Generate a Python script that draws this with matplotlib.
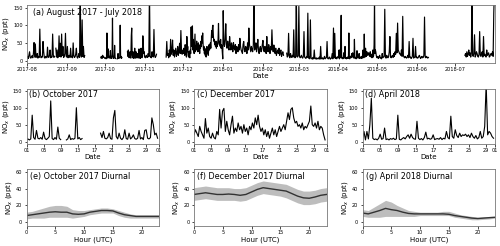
import numpy as np
import pandas as pd
import matplotlib
matplotlib.use('Agg')
import matplotlib.pyplot as plt
import matplotlib.dates as mdates

nan = np.nan

# NOx (ppt), 12-hourly values
aug17 = [8, 12, 6, 15, 25, 9, 7, 11, 14, 8, 20, 51, 10, 47, 9, 13, 20, 7, 12, 9,
         89, 15, 8, 11, 10, 54, 25, 9, 7, 12, 10, 8, 38, 11, 9, 14, 30, 8, 12, 10,
         75, 16, 9, 12, nan, 35, 10, 30, 8, 14, 70, 12, 49, 10, 75, 15, 40, 9, 11, 20,
         77, 13]
sep17 = [10, 40, 8, 12, 15, 9, 35, 10, 12, 8, 50, 14, 9, 11, 18, 35, 10, 7, 12, 20,
         9, 200, 15, 10, 115, 12, 40, 9, 14, nan] + [nan] * 22 + [nan, 8, 12, 6, 15, 9, 10, 7]
nov17 = [12, 8, 15, 10, 9, 20, 11, 200, 14, 9, 8, 25, 12, 10, 88, 15, 9, 12, 18, nan] \
        + [nan] * 12 + [nan, 10, 54, 15, 20, 8, 30, 12, 60, 18, 25, 58, 15, 30, 10, 22,
                        35, 12, 20, 40, 15, 28, 49, 20, 85, 25, 18, 30]
jan18 = [141, 50, 40, 60, 104, 45, 35, 55, 40, 30, 68, 45, 30, 50, 40, 25, 51, 35, 30, 45,
         20, 40, 35, 25, 45, 30, 63, 40, 30, 25, 20, 45, 54, 30, 25, 40, 35, 20, 50, 30,
         92, 45, 35, 25, 40, 30, 25, 45, 200, 30, 35, 50, 25, 40, 60, 30, 20, 35, 40, 25,
         30, 45]
feb18 = [57, 30, 25, 40, 35, 20, 68, 30, 25, 45, 35, 20, 40, 30, 87, 35, 25, 44, 30, 20,
         35, 15, 25, 30, 20, 35, 15, 25, 30, 12, 20, 25, 15, nan, nan, nan, nan, 21, 10, 15,
         77, 12, 8, 20, 12, 9, 15, 10, 87, 12, 8, 10, 200, 12, 10, 14]
mar18 = [153, 12, 8, 10, 15, 9, 7, 12, 82, 10, 8, 6, 12, 9, 134, 7, 10, 5, 115, 8,
         6, 4, 9, 5, 30, 6, 5, 8, 4, 6, 7, 5, 10, 4, 40, 6, 5, 8, 4, 6,
         12, 5, 7, 9, 54, 6, 5, 8, 10, 4, 6, 7, 20, 5, 92, 8, 77, 6, 10, 5,
         8, 12]
may18 = [8, 12, 6, 10, 15, 7, 9, 5, 20, 8, 10, 12, 145, 9, 7, 15, 10, 8, 12, 25,
         68, 10, 8, 12, 15, 9, 20, 12, 25, 18, 77, 22, 106, 30, 25, 20, 18, 15, 30, 12,
         125, 15, 10, 8, 12, 9, 7, 10, 15, 8, 54, 9, 10, 6, 8, 12, 63, 7, 9, 10,
         40, 8]
jun18 = [10, 7, 8, 12, 15, 9, 6, 10, 12, 8, 9, 15, 123, 10, 8, 12, 10, 7, 9, nan] + [nan] * 40
jul18 = [nan] * 14 + [nan, 15, 20, 10, 25, 12, 18, 30, 15, 22, 10, 20, 200, 15, 12, 20,
                      73, 10, 15, 25, 20, 12, 10, 18, 82, 15, 12, 20, 25, 10, 68, 15,
                      18, 12, 10, 30, 15, 20, 22, 10, 12, 18, 20, 15, 25, 12, 134, 200]

# 8-hourly values for the monthly panels
oct17 = [6, 8, 5, 8, 78, 12, 7, 33, 10, 8, 12, 7, 28, 9, 6, 10, 15, 120, 9, 6,
         12, 7, 43, 10, 6, nan, nan, nan, 5, 8, 20, 6, 9, 7, 10, 100, 8, 12, 6, 9,
         nan, nan] + [nan] * 9 + [nan, 25, 12, 30, 10, 8, 12, 25, 9, 7, 70, 92, 15, 8, 25,
                                 10, 6, 12, 35, 9, 7, 25, 8, 12, 20, 9, 7, 10, 33, 8, 12,
                                 6, 33, 35, 10, 8, 12, 70, 50, 20, 25, 10]
dec17 = [20, 35, 25, 15, 45, 30, 20, 10, 68, 25, 40, 15, 10, 25, 12, 8, 30, 20, 95, 40,
         90, 98, 30, 60, 35, 20, 50, 75, 25, 40, 30, 55, 35, 45, 25, 50, 30, 40, 20, 45,
         35, 55, 40, 70, 50, 78, 45, 30, 40, 20, 35, 15, 30, 10, 25, 40, 20, 35, 15, 30,
         45, 30, 40, 50, 35, 60, 85, 65, 95, 100, 70, 55, 60, 45, 50, 40, 55, 35, 45, 40,
         50, 60, 105, 50, 45, 55, 40, 60, 35, 45, 40, 20, 5]
apr18 = [8, 30, 5, 30, 8, 50, 128, 10, 6, 8, 5, 10, 22, 7, 9, 40, 6, 8, 5, 9,
         7, 10, 6, 8, 78, 7, 5, 9, 12, 8, 15, 20, 10, 22, 12, 8, 7, 60, 10, 6,
         9, 5, 12, 28, 8, 10, 7, 9, 20, 6, 8, 9, 7, 12, 6, 10, 8, 30, 12, 8,
         75, 15, 10, 35, 18, 12, 25, 15, 20, 18, 22, 15, 20, 12, 25, 15, 10, 18, 8, 12,
         30, 10, 15, 45, 170, 20, 30, 25, 15, 10]

# diurnal cycles (hour 0-23): mean and shaded range
hours = list(range(24))
oct_mean = [8, 9, 10, 11, 12, 12.5, 12, 12, 10, 9.5, 10, 12, 13, 14, 14, 13.5, 11, 9, 8, 7, 7, 7, 7, 7]
oct_lo = [4, 5, 5, 5, 6, 6, 6, 6, 5, 6, 7, 9, 10, 11, 11, 11, 8, 6, 5, 5, 5, 5, 5, 5]
oct_hi = [12, 13, 15, 17, 19, 20, 20, 19, 15, 14, 14, 15, 16, 17, 17, 16, 14, 12, 10, 9, 9, 9, 9, 9]
dec_mean = [33, 34, 35, 34, 33, 33, 33.5, 33, 32, 33, 36, 39, 41, 40, 39, 38, 37, 34, 31, 29, 28.5, 30, 32, 33]
dec_lo = [26, 27, 28, 27, 26, 26, 26, 26, 25, 26, 29, 32, 34, 33, 32, 31, 29, 26, 23, 21, 21, 22, 24, 25]
dec_hi = [41, 42, 43, 42, 41, 41, 41, 40, 40, 41, 44, 47, 49, 48, 47, 46, 45, 42, 39, 37, 37, 38, 40, 41]
apr_mean = [11, 10, 12, 14, 16.5, 15, 14, 12, 10.5, 10, 10, 10, 10, 10, 10, 9.5, 8, 7, 6, 5, 4.5, 5, 5.5, 6]
apr_lo = [7, 6, 6, 6, 7, 7, 7, 7, 7, 7, 8, 8, 8, 8, 8, 8, 6, 5, 4, 3, 3, 3.5, 4, 5]
apr_hi = [15, 14, 18, 22, 26, 24, 20, 17, 14, 13, 12, 12, 12, 12, 13, 13, 11, 9, 8, 7, 6, 6.5, 7, 7]


def series(start, vals, step):
    idx = pd.date_range(start, periods=len(vals), freq=step)
    return pd.Series(vals, index=idx, dtype=float)


s_oct = series('2017-10-01', oct17, '8h')
s_dec = series('2017-12-01', dec17, '8h')
s_apr = series('2018-04-01', apr18, '8h')
year = pd.concat([series('2017-08-01', aug17, '12h'), series('2017-09-01', sep17, '12h'), s_oct,
                  series('2017-11-01', nov17, '12h'), s_dec, series('2018-01-01', jan18, '12h'),
                  series('2018-02-01', feb18, '12h'), series('2018-03-01', mar18, '12h'), s_apr,
                  series('2018-05-01', may18, '12h'), series('2018-06-01', jun18, '12h'),
                  series('2018-07-01', jul18, '12h')])

TICK = 3.6
LAB = 5.0
TIT = 5.8
ylab = r'NO$_x$ (ppt)'

fig = plt.figure(figsize=(5, 2.46), dpi=100)


def style(ax):
    ax.tick_params(labelsize=TICK, length=1.8, width=0.5, pad=1.2)
    for sp in ax.spines.values():
        sp.set_linewidth(0.6)
        sp.set_color('#777777')
    ax.set_ylabel(ylab, fontsize=LAB, labelpad=1.5)


# (a) full year
ax = fig.add_axes([0.054, 0.745, 0.936, 0.236])
ax.plot(year.index, year.values, color='k', lw=0.85)
ax.set_xlim(pd.Timestamp('2017-08-01'), pd.Timestamp('2018-07-31 23:00'))
ax.set_ylim(-6, 158)
ax.set_yticks([0, 50, 100, 150])
ax.xaxis.set_major_locator(mdates.MonthLocator())
ax.xaxis.set_major_formatter(mdates.DateFormatter('%Y-%m'))
ax.set_xlabel('Date', fontsize=LAB, labelpad=1)
ax.text(0.013, 0.86, '(a) August 2017 - July 2018', transform=ax.transAxes,
        fontsize=TIT, va='center')
style(ax)

# monthly panels
lefts = [0.053, 0.388, 0.725]
months = [(s_oct, '2017-10-01', '2017-11-01', '(b) October 2017'),
          (s_dec, '2017-12-01', '2018-01-01', '(c) December 2017'),
          (s_apr, '2018-04-01', '2018-05-01', '(d) April 2018')]
for left, (s, t0, t1, name) in zip(lefts, months):
    ax = fig.add_axes([left, 0.416, 0.265, 0.222])
    ax.plot(s.index, s.values, color='k', lw=0.8)
    ax.set_xlim(pd.Timestamp(t0), pd.Timestamp(t1))
    ax.set_ylim(-6, 155)
    ax.set_yticks([0, 50, 100, 150])
    ax.xaxis.set_major_locator(mdates.DayLocator(bymonthday=[1, 5, 9, 13, 17, 21, 25, 29]))
    ax.xaxis.set_major_formatter(mdates.DateFormatter('%d'))
    ax.set_xlabel('Date', fontsize=LAB, labelpad=1)
    ax.text(0.02, 0.9, name, transform=ax.transAxes, fontsize=TIT, va='center')
    style(ax)

# diurnal panels
diurnal = [(oct_mean, oct_lo, oct_hi, '(e) October 2017 Diurnal'),
           (dec_mean, dec_lo, dec_hi, '(f) December 2017 Diurnal'),
           (apr_mean, apr_lo, apr_hi, '(g) April 2018 Diurnal')]
for left, (m, lo, hi, name) in zip(lefts, diurnal):
    ax = fig.add_axes([left, 0.0825, 0.265, 0.230])
    ax.fill_between(hours, lo, hi, color='#bdbdbd', lw=0)
    ax.plot(hours, m, color='#333333', lw=1.0)
    ax.set_xlim(0, 23)
    ax.set_ylim(-4, 63)
    ax.set_yticks([0, 20, 40, 60])
    ax.set_xticks([0, 5, 10, 15, 20])
    ax.set_xlabel('Hour (UTC)', fontsize=LAB, labelpad=1)
    ax.text(0.025, 0.87, name, transform=ax.transAxes, fontsize=TIT, va='center')
    style(ax)

fig.savefig('out.png', dpi=100)
